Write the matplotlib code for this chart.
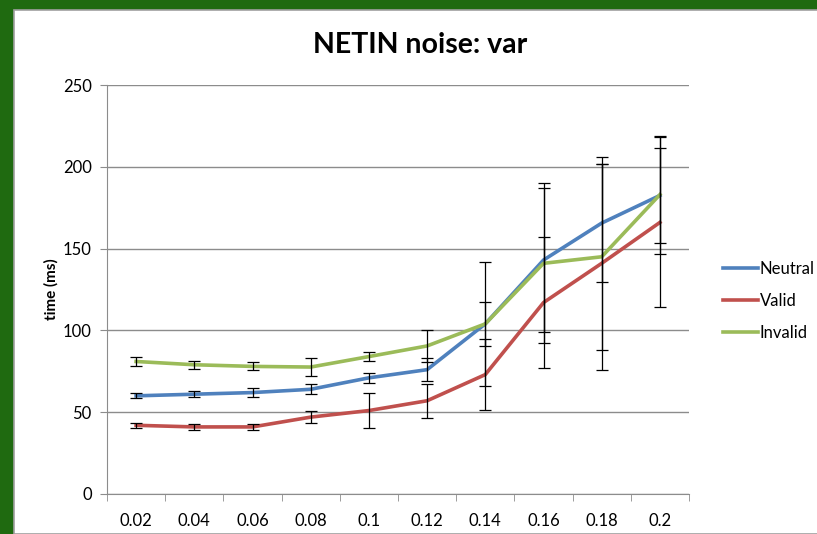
import numpy as np
import matplotlib
matplotlib.use("Agg")
import matplotlib.pyplot as plt
from matplotlib.patches import Rectangle

plt.rcParams['font.family'] = ['Lato', 'DejaVu Sans']

# noise levels and mean response times (ms) with error bar half-widths
noise = ['0.02', '0.04', '0.06', '0.08', '0.1', '0.12', '0.14', '0.16', '0.18', '0.2']
neutral = [60, 61, 62, 64, 71, 76, 104, 143, 165.6, 182.5]
neutral_err = [1.5, 1.8, 2.5, 3, 3, 7, 13.5, 44, 36, 29]
valid = [42, 41, 41, 47, 51, 57, 73, 117, 141, 166]
valid_err = [1.5, 2, 2, 3.5, 10.5, 10.5, 21.7, 40, 65, 52]
invalid = [81, 79, 78, 77.6, 84, 90.5, 104, 141, 145, 183]
invalid_err = [3, 2.5, 2.5, 5.5, 3, 10, 38, 49, 57, 36]

series = [
    ('Neutral', neutral, neutral_err, '#4F81BD'),
    ('Valid', valid, valid_err, '#C0504D'),
    ('Invalid', invalid, invalid_err, '#9BBB59'),
]

fig = plt.figure(figsize=(8.17, 5.34), dpi=100)

# green slide frame around the chart
fig.patches.append(Rectangle((0, 0), 1, 1, transform=fig.transFigure,
                             facecolor='#1F6A10', edgecolor='none', zorder=-10))
fig.patches.append(Rectangle((14 / 817, 0), 1, 1 - 10 / 534, transform=fig.transFigure,
                             facecolor='white', edgecolor='#A0A0A0', linewidth=1.2, zorder=-9))

ax = fig.add_axes([107 / 817, 1 - 494 / 534, 582 / 817, 409 / 534])
ax.set_facecolor('none')

x = np.arange(len(noise))
for name, vals, err, col in series:
    ax.plot(x, vals, color=col, linewidth=2.6, label=name, zorder=3)
for name, vals, err, col in series:
    ax.errorbar(x, vals, yerr=err, fmt='none', ecolor='black', elinewidth=0.9,
                capsize=4, capthick=0.9, zorder=4)

ax.set_xlim(-0.5, len(noise) - 0.5)
ax.set_ylim(0, 250)
ax.set_yticks(range(0, 251, 50))
ax.yaxis.grid(True, color='#8C8C8C', linewidth=1)
ax.set_axisbelow(True)

ax.set_xticks(x)
ax.set_xticklabels(noise)
ax.set_xticks(np.arange(-0.5, len(noise)), minor=True)
ax.tick_params(axis='x', which='major', length=0, pad=14, labelsize=12)
ax.tick_params(axis='x', which='minor', length=5, color='#8C8C8C')
ax.tick_params(axis='y', length=5, color='#8C8C8C', pad=6, labelsize=12)

for s in ['top', 'right']:
    ax.spines[s].set_visible(False)
for s in ['left', 'bottom']:
    ax.spines[s].set_color('#8C8C8C')

ax.set_ylabel('time (ms)', fontweight='bold', fontsize=11, labelpad=3)

fig.text(420 / 817, 1 - 45 / 534, 'NETIN noise: var', ha='center', va='center',
         fontsize=20.5, fontweight='bold')

ax.legend(loc='center left', bbox_to_anchor=(1.047, 0.472),
          frameon=False, fontsize=12, handlelength=2.1, handletextpad=0.1,
          labelspacing=0.95, borderaxespad=0)

fig.savefig('out.png', dpi=100)
